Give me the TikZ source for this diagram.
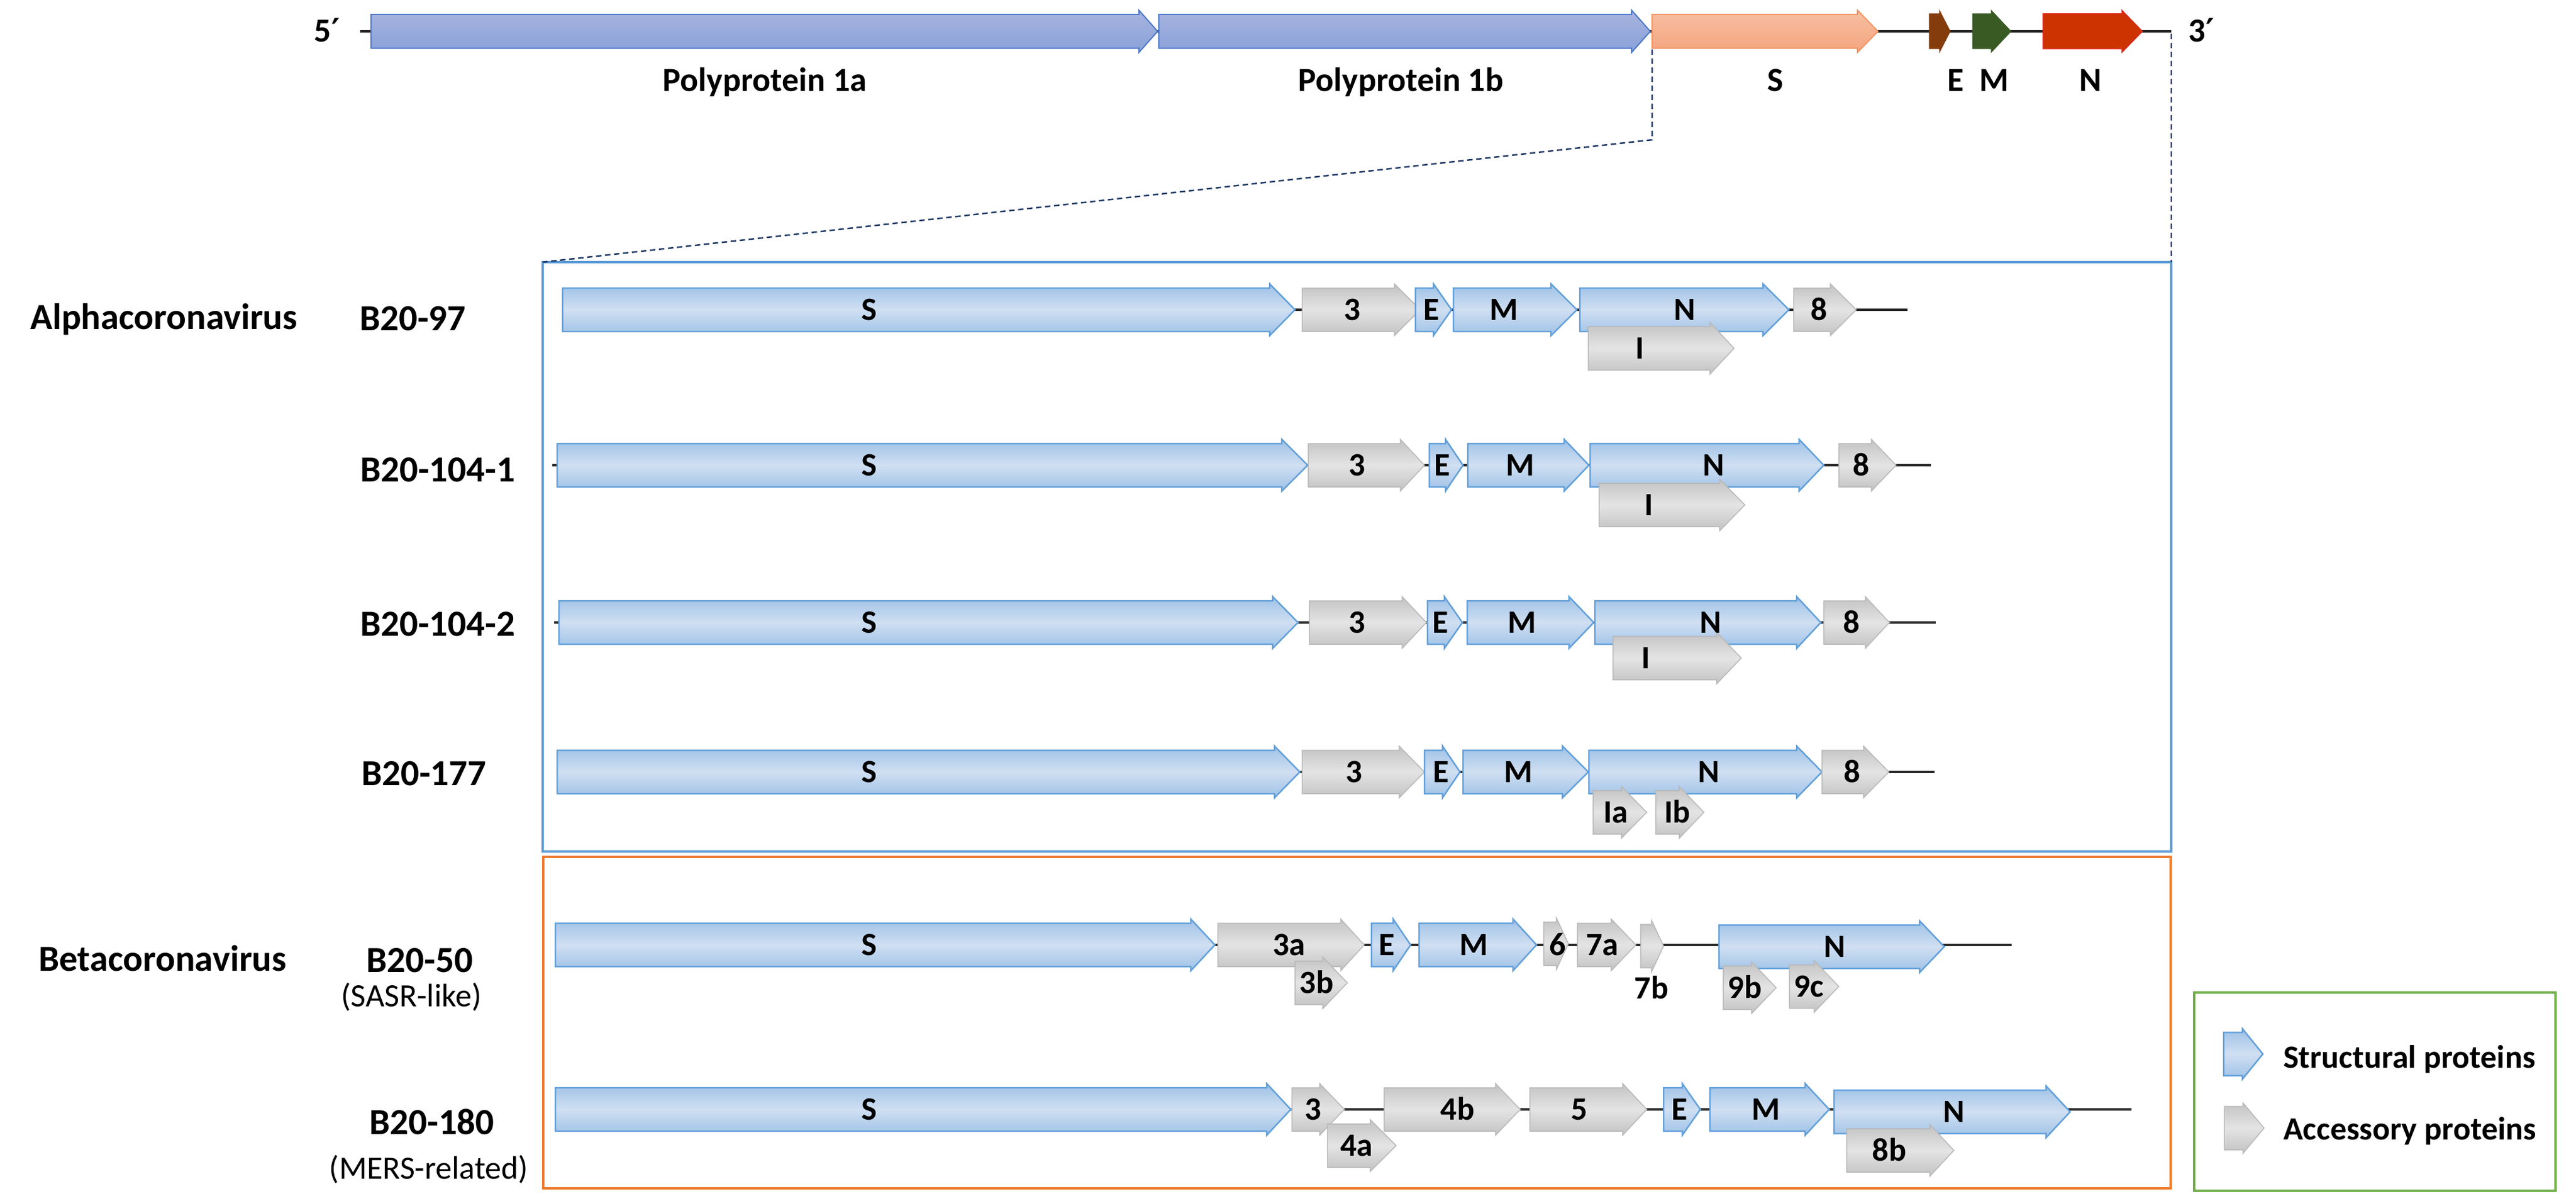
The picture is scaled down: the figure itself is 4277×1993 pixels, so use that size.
\documentclass[tikz,border=0pt]{standalone}
\usepackage{fontspec}
\setmainfont{Carlito}
\newfontfamily\symfont{DejaVu Sans}
\definecolor{bA}{RGB}{157,193,230}
\definecolor{bB}{RGB}{208,223,242}
\definecolor{bD}{RGB}{98,160,218}
\definecolor{gA}{RGB}{194,194,194}
\definecolor{gB}{RGB}{228,228,228}
\definecolor{gD}{RGB}{184,184,184}
\definecolor{ppA}{RGB}{166,180,224}
\definecolor{ppB}{RGB}{138,161,217}
\definecolor{ppD}{RGB}{78,120,200}
\definecolor{sA}{RGB}{247,192,162}
\definecolor{sB}{RGB}{244,164,126}
\definecolor{sD}{RGB}{242,150,100}
\definecolor{eC}{RGB}{132,60,12}
\definecolor{mC}{RGB}{58,90,36}
\definecolor{nC}{RGB}{204,51,0}
\definecolor{nD}{RGB}{224,40,30}
\definecolor{boxB}{RGB}{91,155,213}
\definecolor{boxO}{RGB}{237,125,49}
\definecolor{boxG}{RGB}{112,173,71}
\definecolor{dashC}{RGB}{31,56,100}
\definecolor{lineC}{RGB}{38,38,38}
\tikzset{
  struct/.style={draw=bD, line width=2.5pt, top color=bA, bottom color=bA, middle color=bB},
  acc/.style={draw=gD, line width=1.5pt, top color=gA, bottom color=gA, middle color=gB},
  poly/.style={draw=ppD, line width=2pt, top color=ppA, bottom color=ppB},
  sgene/.style={draw=sD, line width=2pt, top color=sA, bottom color=sB},
  egene/.style={draw=eC, line width=1pt, fill=eC},
  mgene/.style={draw=mC, line width=1pt, fill=mC},
  ngene/.style={draw=nD, line width=1.5pt, fill=nC},
  backbone/.style={draw=lineC, line width=4.5pt},
  dashln/.style={draw=dashC, line width=2.5pt, dash pattern=on 9pt off 6pt},
  gl/.style={font=\fontsize{54}{60}\selectfont\bfseries, inner sep=0pt, text height=35pt, text depth=0pt},
  toplbl/.style={font=\fontsize{56}{62}\selectfont\bfseries, inner sep=0pt, text height=36pt, text depth=0pt},
  strain/.style={font=\fontsize{61}{66}\selectfont\bfseries, inner sep=0pt, text height=39pt, text depth=0pt},
  subl/.style={font=\fontsize{54}{60}\selectfont, inner sep=0pt, text height=35pt, text depth=0pt},
  leg/.style={font=\fontsize{54}{60}\selectfont\bfseries, inner sep=0pt, text height=35pt, text depth=0pt, anchor=west},
}
% #1 style, #2 start, #3 head start, #4 tip, #5 centre y, #6 half body, #7 flange
\newcommand\gene[7]{\path[#1] (#2,#5-#6) -- (#3,#5-#6) -- (#3,#5-#6-#7) -- (#4,#5) -- (#3,#5+#6+#7) -- (#3,#5+#6) -- (#2,#5+#6) -- cycle;}
\newcommand\gA[5]{\gene{#1}{#2}{#3}{#4}{#5}{36}{7}}
\newcommand\gT[4]{\gene{#1}{#2}{#3}{#4}{52}{28}{7}}
\newcommand\primemark{{\symfont\bfseries\fontsize{54}{60}\selectfont ′}}
\begin{document}
\begin{tikzpicture}[x=1pt,y=-1pt]
\useasboundingbox (0,0) rectangle (4277,1993);
\fill[white] (0,0) rectangle (4277,1993);

% ---------- genome overview ----------
\coordinate (g0) at (598,52);
\coordinate (g1) at (3605,52);
\draw[backbone] (g0) -- (g1);
\gT{poly}{616}{1891}{1922}
\gT{poly}{1924}{2709}{2740}
\gT{sgene}{2743}{3084}{3118}
\gene{egene}{3203}{3220}{3238}{52}{29}{6}
\gene{mgene}{3275}{3306}{3339}{52}{29}{6}
\gene{ngene}{3392}{3523}{3557}{52}{29}{6}
\node[toplbl] (five) at (543,52) {5\primemark};
\node[toplbl] (three) at (3655,52) {3\primemark};
\node[toplbl] (pp1a) at (1270,134) {Polyprotein 1a};
\node[toplbl] (pp1b) at (2326,134) {Polyprotein 1b};
\node[toplbl] (tS) at (2948,134) {S};
\node[toplbl] (tE) at (3247,134) {E};
\node[toplbl] (tM) at (3311,134) {M};
\node[toplbl] (tN) at (3471,134) {N};

% ---------- boxes ----------
\coordinate (aTL) at (901,435);
\coordinate (aBR) at (3605,1413);
\coordinate (bTL) at (902,1422);
\coordinate (bBR) at (3604,1972);
\draw[boxB, line width=4.5pt] (aTL) rectangle (aBR);
\draw[boxO, line width=4.5pt] (bTL) rectangle (bBR);
\coordinate (lTL) at (3643,1647);
\coordinate (lBR) at (4243,1976);
\draw[boxG, line width=4pt] (lTL) rectangle (lBR);

% ---------- zoom lines ----------
\coordinate (d0) at (2743,82);
\coordinate (d1) at (2743,232);
\coordinate (d2) at (3605,56);
\coordinate (aTR) at (3605,435);
\draw[dashln] (d0) -- (d1) -- (aTL);
\draw[dashln] (d2) -- (aTR);

% ---------- side labels ----------
\node[strain] (alpha) at (272,527) {Alphacoronavirus};
\node[strain] (beta) at (270,1592) {Betacoronavirus};
\node[strain, anchor=west] (l1) at (597,529) {B20-97};
\node[strain, anchor=west] (l2) at (598,780) {B20-104-1};
\node[strain, anchor=west] (l3) at (598,1036) {B20-104-2};
\node[strain, anchor=west] (l4) at (600,1284) {B20-177};
\node[strain] (l5) at (697,1594) {B20-50};
\node[subl] (l5s) at (683,1653) {(SASR-like)};
\node[strain] (l6) at (717,1863) {B20-180};
\node[subl] (l6s) at (712,1939) {(MERS-related)};

% ---------- B20-97 ----------
\coordinate (r1a) at (934,514); \coordinate (r1b) at (3167,514);
\draw[backbone] (r1a) -- (r1b);
\gA{struct}{934}{2108}{2150}{514}
\gA{acc}{2162}{2315}{2358}{514}
\gA{struct}{2350}{2380}{2410}{514}
\gA{struct}{2413}{2575}{2618}{514}
\gA{struct}{2623}{2927}{2970}{514}
\gA{acc}{2978}{3039}{3082}{514}
\gA{acc}{2637}{2839}{2879}{578}
\node[gl] (r1S) at (1443,514) {S};
\node[gl] (r13) at (2245,514) {3};
\node[gl] (r1E) at (2377,514) {E};
\node[gl] (r1M) at (2497,514) {M};
\node[gl] (r1N) at (2797,514) {N};
\node[gl] (r18) at (3020,514) {8};
\node[gl] (r1I) at (2723,578) {I};

% ---------- B20-104-1 ----------
\coordinate (r2a) at (917,772); \coordinate (r2b) at (3206,772);
\draw[backbone] (r2a) -- (r2b);
\gA{struct}{925}{2128}{2171}{772}
\gA{acc}{2172}{2325}{2365}{772}
\gA{struct}{2373}{2400}{2429}{772}
\gA{struct}{2437}{2597}{2638}{772}
\gA{struct}{2640}{2987}{3028}{772}
\gA{acc}{3053}{3107}{3148}{772}
\gA{acc}{2655}{2855}{2897}{838}
\node[gl] (r2S) at (1443,772) {S};
\node[gl] (r23) at (2253,772) {3};
\node[gl] (r2E) at (2395,772) {E};
\node[gl] (r2M) at (2524,772) {M};
\node[gl] (r2N) at (2845,772) {N};
\node[gl] (r28) at (3090,772) {8};
\node[gl] (r2I) at (2738,838) {I};

% ---------- B20-104-2 ----------
\coordinate (r3a) at (920,1033); \coordinate (r3b) at (3214,1033);
\draw[backbone] (r3a) -- (r3b);
\gA{struct}{928}{2113}{2155}{1033}
\gA{acc}{2174}{2328}{2368}{1033}
\gA{struct}{2370}{2398}{2428}{1033}
\gA{struct}{2436}{2605}{2646}{1033}
\gA{struct}{2648}{2983}{3023}{1033}
\gA{acc}{3028}{3097}{3137}{1033}
\gA{acc}{2678}{2850}{2891}{1092}
\node[gl] (r3S) at (1443,1033) {S};
\node[gl] (r33) at (2253,1033) {3};
\node[gl] (r3E) at (2392,1033) {E};
\node[gl] (r3M) at (2527,1033) {M};
\node[gl] (r3N) at (2840,1033) {N};
\node[gl] (r38) at (3074,1033) {8};
\node[gl] (r3I) at (2733,1092) {I};

% ---------- B20-177 ----------
\coordinate (r4a) at (925,1281); \coordinate (r4b) at (3212,1281);
\draw[backbone] (r4a) -- (r4b);
\gA{struct}{925}{2116}{2158}{1281}
\gA{acc}{2162}{2323}{2365}{1281}
\gA{struct}{2365}{2395}{2424}{1281}
\gA{struct}{2429}{2594}{2637}{1281}
\gA{struct}{2638}{2983}{3025}{1281}
\gA{acc}{3025}{3094}{3136}{1281}
\gA{acc}{2645}{2692}{2734}{1348}
\gA{acc}{2749}{2788}{2829}{1348}
\node[gl] (r4S) at (1443,1281) {S};
\node[gl] (r43) at (2248,1281) {3};
\node[gl] (r4E) at (2393,1281) {E};
\node[gl] (r4M) at (2521,1281) {M};
\node[gl] (r4N) at (2837,1281) {N};
\node[gl] (r48) at (3075,1281) {8};
\node[gl] (r4Ia) at (2683,1348) {Ia};
\node[gl] (r4Ib) at (2785,1348) {Ib};

% ---------- B20-50 ----------
\coordinate (r5a) at (922,1568); \coordinate (r5b) at (3340,1568);
\draw[backbone] (r5a) -- (r5b);
\gA{struct}{922}{1977}{2017}{1568}
\gA{acc}{2022}{2226}{2265}{1568}
\gA{struct}{2277}{2313}{2342}{1568}
\gA{struct}{2356}{2512}{2551}{1568}
\gA{acc}{2563}{2584}{2604}{1566}
\gA{acc}{2619}{2675}{2716}{1568}
\gA{acc}{2724}{2742}{2762}{1570}
\gA{struct}{2854}{3187}{3228}{1571}
\gA{acc}{2150}{2196}{2237}{1631}
\gA{acc}{2861}{2908}{2949}{1639}
\gA{acc}{2971}{3012}{3053}{1637}
\node[gl] (r5S) at (1443,1568) {S};
\node[gl] (r53a) at (2140,1568) {3a};
\node[gl] (r5E) at (2303,1568) {E};
\node[gl] (r5M) at (2447,1568) {M};
\node[gl] (r56) at (2586,1568) {6};
\node[gl] (r57a) at (2660,1568) {7a};
\node[gl] (r5N) at (3046,1571) {N};
\node[gl] (r53b) at (2186,1631) {3b};
\node[gl] (r57b) at (2742,1640) {7b};
\node[gl] (r59b) at (2897,1639) {9b};
\node[gl] (r59c) at (3003,1637) {9c};

% ---------- B20-180 ----------
\coordinate (r6a) at (922,1841); \coordinate (r6b) at (3539,1841);
\draw[backbone] (r6a) -- (r6b);
\gA{struct}{922}{2103}{2143}{1841}
\gA{acc}{2145}{2191}{2232}{1841}
\gA{acc}{2298}{2483}{2524}{1841}
\gA{acc}{2540}{2694}{2734}{1841}
\gA{struct}{2762}{2793}{2823}{1841}
\gA{struct}{2839}{2997}{3037}{1841}
\gA{struct}{3045}{3397}{3437}{1845}
\gA{acc}{2204}{2275}{2318}{1901}
\gA{acc}{3066}{3204}{3244}{1909}
\node[gl] (r6S) at (1443,1841) {S};
\node[gl] (r63) at (2180,1841) {3};
\node[gl] (r64b) at (2420,1841) {4b};
\node[gl] (r65) at (2622,1841) {5};
\node[gl] (r6E) at (2789,1841) {E};
\node[gl] (r6M) at (2932,1841) {M};
\node[gl] (r6N) at (3244,1845) {N};
\node[gl] (r64a) at (2252,1901) {4a};
\node[gl] (r68b) at (3137,1909) {8b};

% ---------- legend ----------
\gene{struct}{3692}{3723}{3757}{1749}{36}{6}
\gene{acc}{3693}{3724}{3759}{1872}{36}{6}
\node[leg] (legS) at (3791,1755) {Structural proteins};
\node[leg] (legA) at (3791,1874) {Accessory proteins};
\end{tikzpicture}
\end{document}
